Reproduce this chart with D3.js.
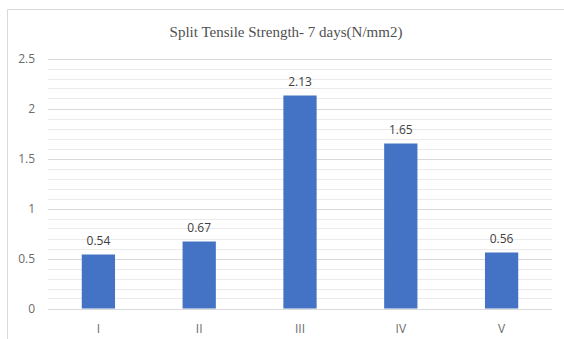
<!DOCTYPE html>
<html>
<head>
<meta charset="utf-8">
<script src="https://cdn.jsdelivr.net/npm/d3@7"></script>
<style>
  body { margin: 0; background: #fff; }
  svg { display: block; }
</style>
</head>
<body>
<div id="chart"></div>
<script>
// data
var mezclas = ["I", "II", "III", "IV", "V"];
var resistencia = [0.54, 0.67, 2.13, 1.65, 0.56];
var ticksY = [0, 0.5, 1, 1.5, 2, 2.5];
var titulo = "Split Tensile Strength- 7 days(N/mm2)";

var width = 564, height = 339,
    margin = {left: 48, right: 12, top: 58, bottom: 30};

var svg = d3.select("#chart").append("svg")
  .attr("width", width)
  .attr("height", height);

// marco del grafico
svg.append("path")
  .attr("d", "M7.5," + height + " L7.5,9.5 L" + width + ",9.5")
  .attr("fill", "none")
  .attr("stroke", "#d9d9d9");

var x = d3.scaleBand()
  .domain(mezclas)
  .range([margin.left, width - margin.right])
  .paddingInner(0.67)
  .paddingOuter(0.335);

var y = d3.scaleLinear()
  .domain([0, 2.5])
  .range([308.5, 58.5]);

// lineas menores cada 0.1
var menores = d3.range(1, 25).map(function (i) { return i / 10; })
  .filter(function (v) { return Math.round(v * 10) % 5 != 0; });

svg.append("g").selectAll("line")
  .data(menores)
  .enter().append("line")
  .attr("x1", margin.left).attr("x2", width - margin.right)
  .attr("y1", function (d) { return Math.round(y(d)) + 0.5; })
  .attr("y2", function (d) { return Math.round(y(d)) + 0.5; })
  .attr("stroke", "#ebebeb");

// lineas mayores
svg.append("g").selectAll("line")
  .data(ticksY)
  .enter().append("line")
  .attr("x1", margin.left).attr("x2", width - margin.right)
  .attr("y1", function (d) { return Math.round(y(d)) + 0.5; })
  .attr("y2", function (d) { return Math.round(y(d)) + 0.5; })
  .attr("stroke", "#d9d9d9");

// eje y
var yAxis = svg.append("g")
  .attr("transform", "translate(35,0)")
  .call(d3.axisLeft(y).tickValues(ticksY).tickSize(0).tickPadding(0)
    .tickFormat(function (d) { return String(d); }));
yAxis.select(".domain").remove();
yAxis.selectAll("text")
  .attr("fill", "#6b6b6b")
  .style("font-family", "'Open Sans', sans-serif")
  .style("font-size", "12px");

// eje x
var xAxis = svg.append("g")
  .attr("transform", "translate(0," + 320 + ")")
  .call(d3.axisBottom(x).tickSize(0).tickPadding(4));
xAxis.select(".domain").remove();
xAxis.selectAll("text")
  .attr("fill", "#6b6b6b")
  .style("font-family", "'Open Sans', sans-serif")
  .style("font-size", "12px");

// barras
svg.append("g").selectAll("rect")
  .data(resistencia)
  .enter().append("rect")
  .attr("x", function (d, i) { return x(mezclas[i]); })
  .attr("y", function (d) { return y(d); })
  .attr("width", x.bandwidth())
  .attr("height", function (d) { return y(0) - y(d); })
  .attr("fill", "#4472c4");

// etiquetas de valores
svg.append("g").selectAll("text")
  .data(resistencia)
  .enter().append("text")
  .attr("x", function (d, i) { return x(mezclas[i]) + x.bandwidth() / 2; })
  .attr("y", function (d) { return y(d) - 10; })
  .attr("text-anchor", "middle")
  .attr("fill", "#404040")
  .style("font-family", "'Open Sans', sans-serif")
  .style("font-size", "12px")
  .text(function (d) { return d.toFixed(2); });

// titulo
svg.append("text")
  .attr("x", 286)
  .attr("y", 37)
  .attr("text-anchor", "middle")
  .attr("fill", "#505050")
  .style("font-family", "'Liberation Serif', serif")
  .style("font-size", "15px")
  .text(titulo);
</script>
</body>
</html>
